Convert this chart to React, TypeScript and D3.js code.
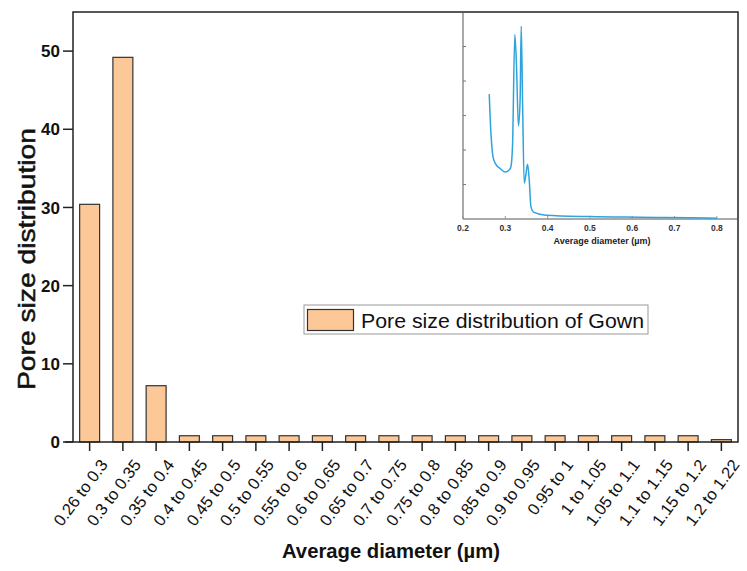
import * as d3 from 'd3';
import React, { useRef, useEffect } from 'react';

// bar chart data
const categories = [
  '0.26 to 0.3', '0.3 to 0.35', '0.35 to 0.4', '0.4 to 0.45', '0.45 to 0.5',
  '0.5 to 0.55', '0.55 to 0.6', '0.6 to 0.65', '0.65 to 0.7', '0.7 to 0.75',
  '0.75 to 0.8', '0.8 to 0.85', '0.85 to 0.9', '0.9 to 0.95', '0.95 to 1',
  '1 to 1.05', '1.05 to 1.1', '1.1 to 1.15', '1.15 to 1.2', '1.2 to 1.22',
];
const values = [30.4, 49.2, 7.2, 0.8, 0.8, 0.8, 0.8, 0.8, 0.8, 0.8, 0.8, 0.8, 0.8, 0.8, 0.8, 0.8, 0.8, 0.8, 0.8, 0.3];
const yTicks = [0, 10, 20, 30, 40, 50];

// inset curve (diameter, intensity)
const insetX = [0.262, 0.264, 0.267, 0.271, 0.277, 0.289, 0.2996, 0.309, 0.313, 0.317, 0.3225, 0.3265, 0.331, 0.335, 0.3376, 0.3407, 0.3447, 0.348, 0.3526, 0.3565, 0.3605, 0.368, 0.396, 0.499, 0.617, 0.7755, 0.8];
const insetY = [3.62, 3.0, 2.3, 1.8, 1.6, 1.45, 1.36, 1.42, 1.5, 2.1, 5.35, 4.43, 2.7, 3.46, 5.59, 3.46, 1.04, 1.23, 1.59, 1.14, 0.36, 0.19, 0.11, 0.07, 0.05, 0.03, 0.02];
const insetXTicks = [0.2, 0.3, 0.4, 0.5, 0.6, 0.7, 0.8];
const insetYTicks = [1, 2, 3, 4, 5];

const W = 747, H = 571;

function App() {
  const ref = useRef<SVGSVGElement>(null);

  useEffect(() => {
    const svg = d3.select(ref.current);
    svg.selectAll('*').remove();
    const font = 'Liberation Sans, Arial, sans-serif';

    const left = 73, right = 738, top = 12, bottom = 442;

    const x = d3.scaleBand<string>().domain(categories).range([left, right]).paddingInner(0.4).paddingOuter(0.2);
    const y = d3.scaleLinear().domain([0, 55]).range([bottom, top]);

    // bars
    svg.append('g').selectAll('rect').data(values).enter().append('rect')
      .attr('x', (d, i) => x(categories[i])!)
      .attr('y', d => y(d))
      .attr('width', x.bandwidth())
      .attr('height', d => y(0) - y(d))
      .attr('fill', '#fdc897')
      .attr('stroke', '#333')
      .attr('stroke-width', 1.2);

    // frame
    svg.append('path')
      .attr('d', `M${left},${bottom}V${top}H${right}V${bottom}H${left - 8}`)
      .attr('fill', 'none').attr('stroke', '#222').attr('stroke-width', 1.5);

    // y ticks
    const yg = svg.append('g');
    yTicks.forEach(t => {
      yg.append('line').attr('x1', left - 10).attr('x2', left).attr('y1', y(t)).attr('y2', y(t))
        .attr('stroke', '#222').attr('stroke-width', 1.5);
      yg.append('text').attr('x', left - 13).attr('y', y(t)).attr('dy', '0.36em')
        .attr('text-anchor', 'end').attr('font-family', font).attr('font-size', 17).attr('font-weight', 'bold')
        .attr('fill', '#111').text(t);
    });

    // x ticks
    const xg = svg.append('g');
    categories.forEach(c => {
      const cx = x(c)! + x.bandwidth() / 2;
      xg.append('line').attr('x1', cx).attr('x2', cx).attr('y1', bottom).attr('y2', bottom + 9)
        .attr('stroke', '#222').attr('stroke-width', 1.5);
      xg.append('text').attr('transform', `translate(${cx + 19},${bottom + 23}) rotate(-53)`)
        .attr('text-anchor', 'end').attr('font-family', font).attr('font-size', 16.5)
        .attr('fill', '#111').text(c);
    });

    // axis titles
    svg.append('text').attr('x', 391).attr('y', 558).attr('text-anchor', 'middle')
      .attr('font-family', font).attr('font-size', 21).attr('font-weight', 'bold').attr('fill', '#111')
      .attr('textLength', 218).attr('lengthAdjust', 'spacingAndGlyphs')
      .text('Average diameter (µm)');
    svg.append('text').attr('transform', `translate(35,259) rotate(-90)`).attr('text-anchor', 'middle')
      .attr('font-family', font).attr('font-size', 24).attr('fill', '#111')
      .attr('stroke', '#111').attr('stroke-width', 0.5)
      .attr('textLength', 262).attr('lengthAdjust', 'spacingAndGlyphs')
      .text('Pore size distribution');

    // legend
    const lg = svg.append('g');
    lg.append('rect').attr('x', 304).attr('y', 305).attr('width', 344).attr('height', 29)
      .attr('fill', '#fff').attr('stroke', '#999').attr('stroke-width', 1);
    lg.append('rect').attr('x', 307.5).attr('y', 309.5).attr('width', 46).attr('height', 21)
      .attr('fill', '#fdc897').attr('stroke', '#333').attr('stroke-width', 1.2);
    lg.append('text').attr('x', 361).attr('y', 327.5).attr('font-family', font).attr('font-size', 21)
      .attr('fill', '#111').attr('textLength', 283).attr('lengthAdjust', 'spacingAndGlyphs')
      .text('Pore size distribution of Gown');

    // inset
    const ix = d3.scaleLinear().domain([0.2, 0.85]).range([463, right]);
    const iy = d3.scaleLinear().domain([0, 6]).range([219, top]);
    const ig = svg.append('g');
    ig.append('path').attr('d', `M${ix(0.2)},${top}V${iy(0)}H${right}`)
      .attr('fill', 'none').attr('stroke', '#555').attr('stroke-width', 1);
    insetYTicks.forEach(t => {
      ig.append('line').attr('x1', ix(0.2)).attr('x2', ix(0.2) + 3).attr('y1', iy(t)).attr('y2', iy(t))
        .attr('stroke', '#777').attr('stroke-width', 1);
    });
    insetXTicks.forEach(t => {
      ig.append('line').attr('x1', ix(t)).attr('x2', ix(t)).attr('y1', iy(0)).attr('y2', iy(0) - 3)
        .attr('stroke', '#999').attr('stroke-width', 1);
      ig.append('text').attr('x', ix(t)).attr('y', 231).attr('text-anchor', 'middle')
        .attr('font-family', font).attr('font-size', 8.5).attr('font-weight', 'bold').attr('fill', '#333')
        .text(t.toFixed(1));
    });
    ig.append('text').attr('x', 602).attr('y', 244).attr('text-anchor', 'middle')
      .attr('font-family', font).attr('font-size', 9).attr('font-weight', 'bold').attr('fill', '#222')
      .text('Average diameter (µm)');

    const line = d3.line<number>()
      .x((d, i) => ix(insetX[i]))
      .y(d => iy(d))
      .curve(d3.curveMonotoneX);
    ig.append('path').attr('d', line(insetY)!)
      .attr('fill', 'none').attr('stroke', '#2ea3dd').attr('stroke-width', 1.5);
  }, []);

  return (
    <svg ref={ref} width={W} height={H} style={{ position: 'absolute', left: 0, top: 0, background: '#fff' }} />
  );
}

export default App;
